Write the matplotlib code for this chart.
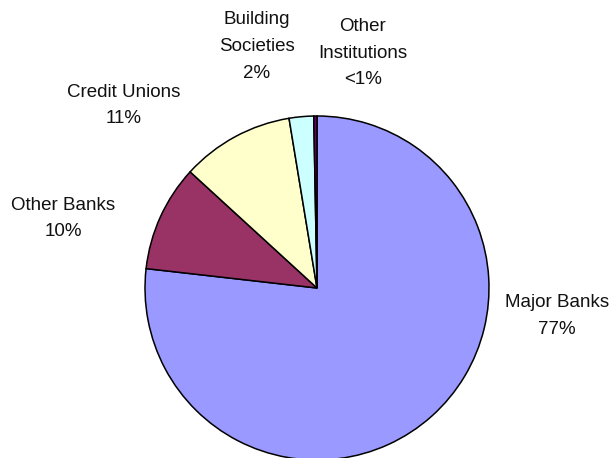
import matplotlib.pyplot as plt

# share of deposits by institution type (%)
categories = ["Major Banks", "Other Banks", "Credit Unions", "Building Societies", "Other Institutions"]
shares = [76.8, 10.0, 10.6, 2.3, 0.3]
share_labels = ["77%", "10%", "11%", "2%", "<1%"]
label_names = ["Major Banks", "Other Banks", "Credit Unions", "Building\nSocieties", "Other\nInstitutions"]
colors = ["#9999FF", "#993366", "#FFFFCC", "#CCFFFF", "#660066"]


def main():
    plt.rcParams['font.family'] = ['Liberation Sans', 'DejaVu Sans']
    fig = plt.figure(figsize=(6.15, 4.58), dpi=100)
    ax = fig.add_axes([0, 0, 1, 1])

    ax.pie(shares, colors=colors, startangle=90, counterclock=False,
           center=(317, 170), radius=172, frame=True,
           wedgeprops=dict(edgecolor='black', linewidth=1.1))
    ax.set_xlim(0, 615)
    ax.set_ylim(0, 458)
    ax.set_aspect('equal')
    ax.axis('off')

    # label positions (pixel coords, y up)
    label_pos = [(557, 142), (63, 239.5), (123.5, 352.5), (257, 411.5), (363, 405)]
    for name, pct, (x, y) in zip(label_names, share_labels, label_pos):
        ax.text(x, y, name + "\n" + pct, ha='center', va='center',
                fontsize=13.5, linespacing=1.75, color='#111111')

    fig.savefig("out.png", dpi=100)


if __name__ == "__main__":
    main()
